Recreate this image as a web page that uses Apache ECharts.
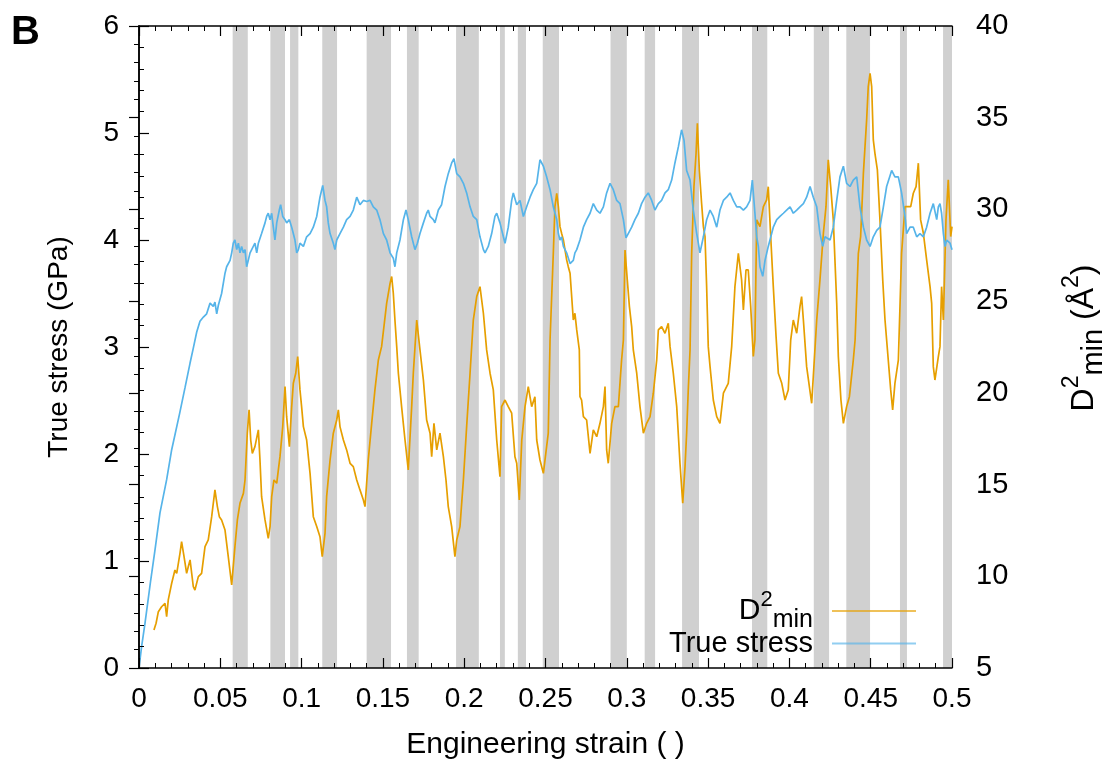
<!DOCTYPE html>
<html>
<head>
<meta charset="utf-8">
<script src="https://cdn.jsdelivr.net/npm/echarts@6/dist/echarts.min.js"></script>
<style>html,body{margin:0;padding:0;background:#fff}#c{width:1108px;height:765px}</style>
</head>
<body>
<div id="c"></div>
<script>
// ---- data ----
const stressStrain = [0,0.0016,0.0037,0.0072,0.0098,0.0129,0.017,0.0201,0.025,0.0283,0.0314,0.0334,0.0355,0.0375,0.0396,0.0416,0.0437,0.0457,0.0467,0.0478,0.0488,0.0508,0.0529,0.0539,0.0560,0.0570,0.0580,0.0590,0.0601,0.0611,0.0621,0.0631,0.0642,0.0652,0.0662,0.0672,0.0683,0.0693,0.0713,0.0724,0.0734,0.0754,0.0775,0.0785,0.0795,0.0806,0.0816,0.0826,0.0836,0.0847,0.0863,0.0871,0.0884,0.0898,0.0908,0.0925,0.0939,0.0949,0.0959,0.0970,0.0980,0.0990,0.1011,0.1031,0.1052,0.1072,0.1093,0.1113,0.1130,0.1144,0.1154,0.1164,0.1175,0.1195,0.1205,0.1216,0.1236,0.1257,0.1277,0.1298,0.1318,0.1339,0.1359,0.1380,0.1400,0.1421,0.1441,0.1462,0.1482,0.1503,0.1523,0.1544,0.1564,0.1574,0.1585,0.1605,0.1626,0.1642,0.1656,0.1677,0.1697,0.1712,0.1728,0.1749,0.1769,0.1779,0.1790,0.1810,0.1820,0.1841,0.1861,0.1882,0.1902,0.1923,0.1937,0.1954,0.1974,0.1995,0.2015,0.2036,0.2056,0.2077,0.2097,0.2118,0.2128,0.2148,0.2169,0.2189,0.2200,0.2220,0.2241,0.2251,0.2271,0.2292,0.2302,0.2323,0.2343,0.2364,0.2384,0.2405,0.2425,0.2446,0.2466,0.2487,0.2507,0.2528,0.2548,0.2569,0.2579,0.2589,0.2599,0.2610,0.2630,0.2651,0.2671,0.2681,0.2692,0.2712,0.2733,0.2753,0.2774,0.2794,0.2815,0.2835,0.2856,0.2876,0.2897,0.2917,0.2938,0.2958,0.2979,0.2995,0.3009,0.3030,0.3050,0.3071,0.3091,0.3112,0.3132,0.3153,0.3173,0.3194,0.3214,0.3235,0.3255,0.3276,0.3296,0.3317,0.3337,0.3352,0.3368,0.3389,0.3409,0.3430,0.3450,0.3471,0.3491,0.3512,0.3532,0.3553,0.3573,0.3594,0.3614,0.3635,0.3655,0.3676,0.3696,0.3717,0.3737,0.3758,0.3772,0.3788,0.3799,0.3809,0.3819,0.3836,0.3850,0.3870,0.3901,0.3922,0.3942,0.3963,0.3983,0.4004,0.4024,0.4045,0.4065,0.4086,0.4106,0.4127,0.4147,0.4168,0.4188,0.4205,0.4219,0.4250,0.4270,0.4291,0.4311,0.4332,0.4352,0.4373,0.4393,0.4414,0.4434,0.4455,0.4475,0.4496,0.4516,0.4537,0.4557,0.4578,0.4598,0.4629,0.4649,0.4670,0.4690,0.4711,0.4721,0.4742,0.4762,0.4783,0.4803,0.4824,0.4844,0.4865,0.4885,0.4906,0.4916,0.4926,0.4936,0.4947,0.4957,0.4967,0.4988,0.5000];
const stressGPa = [0,0.20,0.42,0.82,1.10,1.45,1.76,2.04,2.38,2.62,2.85,2.99,3.14,3.24,3.28,3.31,3.41,3.38,3.42,3.31,3.39,3.50,3.69,3.75,3.81,3.88,3.97,4.00,3.91,3.97,3.88,3.94,3.88,3.91,3.75,3.81,3.88,3.91,3.97,3.88,3.97,4.06,4.16,4.22,4.25,4.19,4.25,4.12,4.00,4.16,4.28,4.33,4.22,4.19,4.16,4.19,4.12,4.06,4.00,3.88,3.91,3.97,3.94,4.03,4.06,4.12,4.22,4.40,4.51,4.37,4.31,4.16,4.06,3.97,3.91,4.00,4.06,4.12,4.19,4.22,4.28,4.40,4.33,4.37,4.36,4.37,4.31,4.28,4.19,4.06,4.00,3.88,3.83,3.75,3.88,4.00,4.19,4.28,4.19,4.03,3.91,3.97,4.06,4.16,4.25,4.28,4.22,4.19,4.16,4.28,4.33,4.50,4.62,4.72,4.76,4.62,4.59,4.53,4.44,4.31,4.22,4.19,4.03,3.91,3.88,3.94,4.06,4.22,4.25,4.16,4.03,3.97,4.12,4.37,4.44,4.33,4.37,4.22,4.31,4.40,4.47,4.53,4.75,4.69,4.59,4.47,4.31,4.19,4.06,4.00,4.03,3.94,3.88,3.78,3.81,3.88,3.91,4.00,4.12,4.19,4.25,4.34,4.28,4.25,4.31,4.44,4.53,4.47,4.37,4.34,4.19,4.02,4.06,4.12,4.19,4.25,4.34,4.40,4.44,4.37,4.28,4.34,4.37,4.44,4.47,4.56,4.72,4.87,5.03,4.93,4.65,4.56,4.28,4.06,3.88,4.03,4.19,4.28,4.22,4.12,4.28,4.37,4.40,4.44,4.37,4.31,4.31,4.28,4.31,4.37,4.56,4.25,4.03,3.94,3.75,3.66,3.81,3.94,4.12,4.19,4.22,4.25,4.28,4.31,4.25,4.28,4.31,4.34,4.40,4.50,4.40,4.31,4.06,3.94,4.03,4.00,4.12,4.37,4.59,4.69,4.53,4.50,4.56,4.59,4.31,4.12,4.00,3.94,4.03,4.09,4.12,4.31,4.50,4.65,4.59,4.59,4.44,4.22,4.06,4.12,4.12,4.03,4.06,4.03,4.12,4.25,4.34,4.19,4.31,4.34,4.25,4.06,3.94,4.00,3.97,3.91];

const d2Strain = [0.0092,0.0105,0.0119,0.0139,0.0160,0.0170,0.0180,0.0201,0.0221,0.0232,0.0252,0.0262,0.0277,0.0293,0.0303,0.0314,0.0334,0.0344,0.0365,0.0385,0.0406,0.0426,0.0447,0.0467,0.0482,0.0494,0.0508,0.0529,0.0549,0.0570,0.0590,0.0605,0.0621,0.0642,0.0652,0.0666,0.0677,0.0687,0.0697,0.0713,0.0734,0.0744,0.0754,0.0775,0.0795,0.0806,0.0816,0.0830,0.0847,0.0867,0.0884,0.0898,0.0908,0.0925,0.0939,0.0949,0.0964,0.0976,0.0990,0.1000,0.1011,0.1031,0.1052,0.1072,0.1093,0.1113,0.1127,0.1144,0.1154,0.1175,0.1195,0.1216,0.1226,0.1236,0.1257,0.1277,0.1298,0.1318,0.1339,0.1359,0.1380,0.1390,0.1410,0.1431,0.1451,0.1472,0.1492,0.1523,0.1544,0.1554,0.1564,0.1574,0.1585,0.1595,0.1615,0.1636,0.1656,0.1677,0.1687,0.1708,0.1718,0.1728,0.1749,0.1769,0.1790,0.1800,0.1814,0.1831,0.1851,0.1872,0.1888,0.1902,0.1923,0.1943,0.1954,0.1974,0.1995,0.2015,0.2036,0.2056,0.2077,0.2097,0.2118,0.2138,0.2159,0.2179,0.2200,0.2220,0.2230,0.2251,0.2271,0.2292,0.2312,0.2323,0.2339,0.2354,0.2374,0.2394,0.2415,0.2435,0.2446,0.2466,0.2487,0.2517,0.2528,0.2548,0.2558,0.2569,0.2579,0.2589,0.2599,0.2610,0.2630,0.2640,0.2651,0.2661,0.2671,0.2681,0.2692,0.2708,0.2712,0.2722,0.2733,0.2753,0.2774,0.2794,0.2815,0.2835,0.2856,0.2866,0.2876,0.2886,0.2907,0.2927,0.2948,0.2968,0.2979,0.2989,0.3003,0.3016,0.3030,0.3040,0.3061,0.3081,0.3102,0.3122,0.3143,0.3163,0.3184,0.3194,0.3214,0.3235,0.3255,0.3266,0.3286,0.3307,0.3327,0.3344,0.3358,0.3368,0.3378,0.3389,0.3399,0.3413,0.3426,0.3434,0.3446,0.3460,0.3471,0.3481,0.3491,0.3501,0.3512,0.3532,0.3553,0.3573,0.3594,0.3604,0.3624,0.3645,0.3665,0.3686,0.3706,0.3717,0.3733,0.3747,0.3762,0.3778,0.3788,0.3799,0.3819,0.3840,0.3860,0.3870,0.3885,0.3901,0.3918,0.3932,0.3953,0.3973,0.3993,0.4008,0.4024,0.4045,0.4065,0.4075,0.4086,0.4106,0.4137,0.4147,0.4168,0.4188,0.4209,0.4225,0.4239,0.4254,0.4270,0.4291,0.4301,0.4317,0.4332,0.4352,0.4369,0.4393,0.4404,0.4424,0.4438,0.4455,0.4475,0.4485,0.4496,0.4506,0.4516,0.4526,0.4541,0.4557,0.4574,0.4588,0.4608,0.4623,0.4635,0.4649,0.4670,0.4690,0.4711,0.4731,0.4746,0.4762,0.4779,0.4793,0.4807,0.4824,0.4844,0.4865,0.4875,0.4885,0.4895,0.4916,0.4926,0.4936,0.4947,0.4963,0.4977,0.4992,0.5000];
const d2Value = [7.07,7.44,8.07,8.34,8.53,7.80,8.71,9.62,10.34,10.16,11.25,11.89,11.07,10.16,10.52,10.89,9.43,9.25,9.98,10.16,11.62,11.98,13.25,14.71,13.80,13.25,13.07,12.52,11.07,9.53,11.62,13.07,13.98,14.52,15.25,17.80,19.07,17.43,16.70,17.07,17.98,16.34,14.34,13.07,12.07,12.71,14.34,15.25,15.07,16.52,18.16,20.34,18.70,17.07,19.25,20.52,21.07,21.98,20.16,19.25,18.16,17.43,15.61,13.25,12.71,12.16,11.07,12.34,14.34,16.34,17.80,18.52,19.07,18.16,17.43,16.89,16.16,15.98,15.25,14.71,14.16,13.80,16.34,18.34,20.16,21.79,22.52,24.88,25.97,26.34,25.43,23.97,22.52,21.07,19.25,17.43,15.80,19.25,21.07,23.97,23.97,22.34,20.70,18.52,17.80,16.52,18.34,16.89,17.80,16.52,15.25,13.80,12.71,11.07,11.98,12.71,15.25,18.16,21.07,23.97,25.25,25.79,24.34,22.34,21.07,20.16,17.43,15.43,19.25,19.61,19.25,18.89,16.52,16.16,14.16,17.43,19.25,20.34,19.25,19.79,17.43,16.34,15.61,17.80,22.88,27.61,30.15,30.88,30.15,29.06,28.70,28.34,27.25,26.88,26.52,25.25,23.97,24.34,23.43,22.34,19.79,19.61,18.70,18.52,16.70,17.98,17.61,18.34,19.25,20.34,16.89,16.16,18.34,19.25,19.25,21.79,22.88,27.79,26.16,24.70,23.61,22.34,21.07,19.25,17.80,18.34,18.70,19.98,21.79,23.43,23.61,23.25,23.79,22.52,21.07,19.25,16.16,13.98,15.98,17.80,20.16,22.34,27.61,31.24,33.06,34.70,32.15,30.34,29.06,28.52,25.79,22.52,21.43,19.61,18.70,18.34,19.98,20.16,20.52,22.52,25.79,27.61,26.16,24.52,26.70,26.70,24.70,21.98,22.88,29.43,29.06,30.15,30.52,31.24,28.52,25.79,23.07,21.07,20.52,19.61,20.16,22.88,23.97,23.25,24.70,25.25,23.97,21.43,19.43,20.89,23.97,26.16,28.70,30.15,32.70,31.24,29.43,24.88,21.98,19.61,18.34,19.25,19.79,21.79,22.88,27.61,28.52,31.97,34.88,36.70,37.42,36.70,33.79,33.06,32.15,29.43,26.16,23.97,21.79,20.16,19.07,20.52,21.79,27.61,30.15,30.15,30.15,30.88,31.24,32.52,29.43,28.70,27.25,25.79,24.88,21.43,20.70,21.98,22.52,25.79,23.97,29.43,31.61,28.52,29.06];

// shaded strain intervals
const bandStart = [0.0576,0.0808,0.0929,0.1127,0.140,0.1648,0.195,0.222,0.233,0.2483,0.290,0.311,0.334,0.377,0.415,0.435,0.468,0.4945];
const bandEnd   = [0.0669,0.0898,0.098,0.1218,0.155,0.172,0.209,0.225,0.238,0.2583,0.300,0.3174,0.3444,0.3864,0.4244,0.4496,0.4723,0.5];

const xRange = [0, 0.5, 0.05];
const yLeftRange = [0, 6, 1];
const yRightRange = [5, 40, 5];
// ---------------------------------------

const FONT = 'Liberation Sans, Arial, Helvetica, sans-serif';
const ORANGE = '#E69F00', BLUE = '#56B4E9';

const stressData = stressStrain.map((x, i) => [x, stressGPa[i]]);
const d2Data = d2Strain.map((x, i) => [x, d2Value[i]]);
const bands = bandStart.map((s, i) => [{xAxis: s}, {xAxis: bandEnd[i]}]);

const axisLineStyle = {color: '#000', width: 1.5};
const tickStyle = {show: true, inside: true, length: 10, lineStyle: {color: '#000', width: 1.2}};
const minorStyle = {show: true, splitNumber: 5, length: 5, lineStyle: {color: '#000', width: 1}};
function xAxisCfg(pos, showLabel) {
  return {
    type: 'value', position: pos, min: xRange[0], max: xRange[1], interval: xRange[2],
    axisLine: {show: true, onZero: false, lineStyle: axisLineStyle},
    axisTick: tickStyle, minorTick: minorStyle,
    splitLine: {show: false},
    axisLabel: {show: showLabel, color: '#000', fontSize: 28, fontFamily: FONT, margin: 17,
      formatter: v => String(+v.toFixed(2))},
    z: 10
  };
}

const chart = echarts.init(document.getElementById('c'), null, {renderer: 'canvas'});
chart.setOption({
  animation: false,
  backgroundColor: '#fff',
  grid: {left: 139, right: 156, top: 26, bottom: 97, containLabel: false, outerBoundsMode: 'none'},
  xAxis: [
    Object.assign(xAxisCfg('bottom', true), {
      name: 'Engineering strain ( )', nameLocation: 'middle', nameGap: 62,
      nameTextStyle: {color: '#000', fontSize: 30, fontFamily: FONT}
    }),
    xAxisCfg('top', false)
  ],
  yAxis: [
    {
      type: 'value', position: 'left', min: yLeftRange[0], max: yLeftRange[1], interval: yLeftRange[2],
      name: 'True stress (GPa)', nameLocation: 'middle', nameRotate: 90, nameGap: 66,
      nameTextStyle: {color: '#000', fontSize: 28, fontFamily: FONT},
      axisLine: {show: true, lineStyle: axisLineStyle},
      axisTick: tickStyle, minorTick: minorStyle,
      splitLine: {show: false},
      axisLabel: {color: '#000', fontSize: 28, fontFamily: FONT, margin: 20},
      z: 10
    },
    {
      type: 'value', position: 'right', min: yRightRange[0], max: yRightRange[1], interval: yRightRange[2],
      name: '{d|D}{sup|2}{sub|min}{d| (Å}{sup|2}{d|)}', nameLocation: 'middle', nameRotate: 90, nameGap: 108,
      nameTextStyle: {
        color: '#000', fontFamily: FONT, padding: [0, 0, 0, 18],
        rich: {
          d: {fontSize: 32, lineHeight: 48, verticalAlign: 'middle', fontFamily: FONT, color: '#000'},
          sup: {fontSize: 23, lineHeight: 23, verticalAlign: 'top', fontFamily: FONT, color: '#000'},
          sub: {fontSize: 29, lineHeight: 29, verticalAlign: 'bottom', fontFamily: FONT, color: '#000'}
        }
      },
      axisLine: {show: true, lineStyle: axisLineStyle},
      axisTick: tickStyle, minorTick: minorStyle,
      splitLine: {show: false},
      axisLabel: {color: '#000', fontSize: 29, fontFamily: FONT, margin: 24},
      z: 10
    }
  ],
  legend: [
    {
      data: ['D2min'], right: 192, top: 589, align: 'right', orient: 'horizontal',
      icon: 'rect', itemWidth: 84, itemHeight: 2, padding: 0,
      itemStyle: {opacity: 0.65},
      formatter: () => '{d|D}{sup|2}{sub|min}',
      textStyle: {
        padding: [0, 14, 0, 0],
        rich: {
          d: {fontSize: 30, lineHeight: 44, verticalAlign: 'middle', fontFamily: FONT, color: '#000'},
          sup: {fontSize: 22, lineHeight: 22, verticalAlign: 'top', fontFamily: FONT, color: '#000'},
          sub: {fontSize: 25, lineHeight: 25, verticalAlign: 'bottom', fontFamily: FONT, color: '#000'}
        }
      }
    },
    {
      data: ['True stress'], right: 192, top: 629, align: 'right', orient: 'horizontal',
      icon: 'rect', itemWidth: 84, itemHeight: 2, padding: 0,
      itemStyle: {opacity: 0.65},
      textStyle: {fontSize: 29, fontFamily: FONT, color: '#000', padding: [0, 14, 0, 0]}
    }
  ],
  graphic: [
    {type: 'text', left: 11, top: 13, style: {text: 'B', font: 'bold 40px ' + FONT, fill: '#000'}}
  ],
  series: [
    {
      name: 'bands', type: 'line', data: [], xAxisIndex: 0, yAxisIndex: 0, z: 1, silent: true,
      markArea: {silent: true, itemStyle: {color: '#d0d0d0', opacity: 1}, data: bands}
    },
    {
      name: 'D2min', type: 'line', xAxisIndex: 0, yAxisIndex: 1, data: d2Data,
      showSymbol: false, symbol: 'none', z: 3,
      lineStyle: {color: ORANGE, width: 1.7}, itemStyle: {color: ORANGE}
    },
    {
      name: 'True stress', type: 'line', xAxisIndex: 0, yAxisIndex: 0, data: stressData,
      showSymbol: false, symbol: 'none', z: 4,
      lineStyle: {color: BLUE, width: 1.7}, itemStyle: {color: BLUE}
    }
  ]
});
</script>
</body>
</html>
